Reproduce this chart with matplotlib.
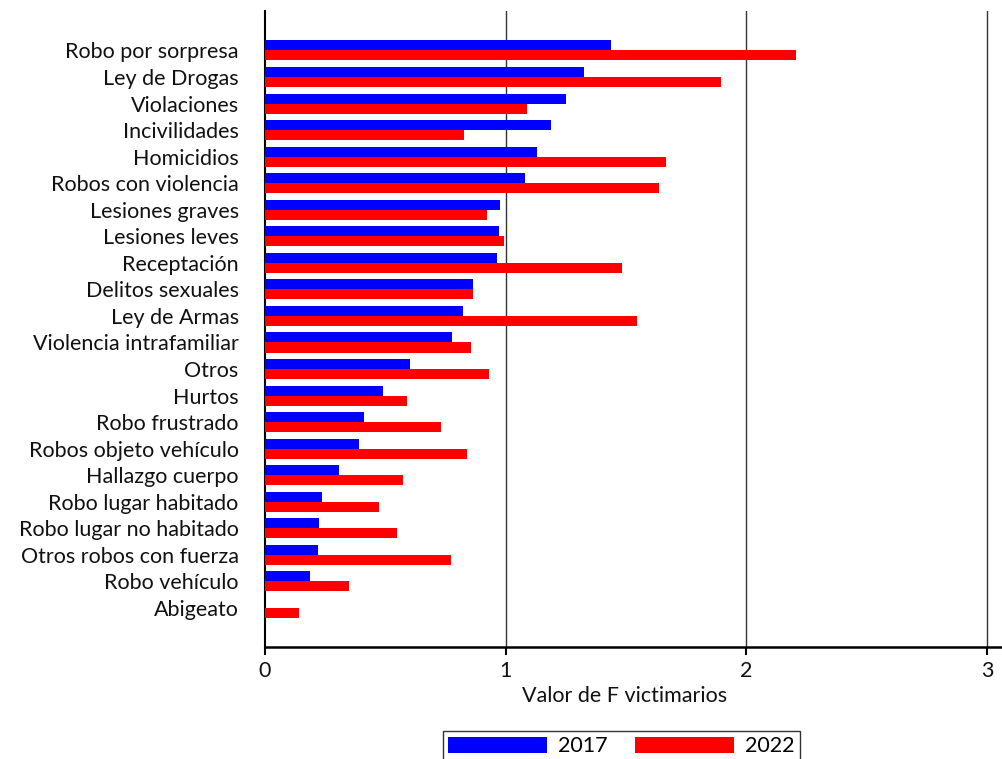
import matplotlib
matplotlib.use("Agg")
import matplotlib.pyplot as plt
import numpy as np

plt.rcParams['font.family'] = ['Lato', 'DejaVu Sans']

# delitos, de arriba hacia abajo
categorias = ['Robo por sorpresa', 'Ley de Drogas', 'Violaciones', 'Incivilidades',
              'Homicidios', 'Robos con violencia', 'Lesiones graves', 'Lesiones leves',
              'Receptación', 'Delitos sexuales', 'Ley de Armas', 'Violencia intrafamiliar',
              'Otros', 'Hurtos', 'Robo frustrado', 'Robos objeto vehículo',
              'Hallazgo cuerpo', 'Robo lugar habitado', 'Robo lugar no habitado',
              'Otros robos con fuerza', 'Robo vehículo', 'Abigeato']

f_2017 = [1.437, 1.325, 1.25, 1.188, 1.13, 1.08, 0.978, 0.972, 0.964, 0.863, 0.821,
          0.777, 0.602, 0.49, 0.411, 0.391, 0.306, 0.237, 0.224, 0.22, 0.187, 0.0]
f_2022 = [2.206, 1.894, 1.089, 0.826, 1.666, 1.637, 0.922, 0.993, 1.483, 0.863, 1.545,
          0.856, 0.931, 0.589, 0.73, 0.839, 0.573, 0.474, 0.548, 0.773, 0.349, 0.141]

anios = ['2017', '2022']
colores = ['#0000ff', '#ff0000']

fig = plt.figure(figsize=(10.02, 7.59), dpi=100)
ax = fig.add_axes([0.2645, 0.1475, 0.7355, 0.8375])

y = np.arange(len(categorias))
alto = 0.377
ax.barh(y - alto / 2, f_2017, height=alto, color=colores[0], label=anios[0], zorder=3)
ax.barh(y + alto / 2, f_2022, height=alto, color=colores[1], label=anios[1], zorder=3)

ax.set_yticks(y)
ax.set_yticklabels(categorias, fontsize=15.5, color='#111111')
ax.set_ylim(22.47, -1.47)
ax.set_xlim(0, 3.062)
ax.set_xticks([0, 1, 2, 3])
ax.set_xticklabels(['0', '1', '2', '3'], fontsize=15.5, color='#111111')
ax.set_xlabel('Valor de F victimarios', fontsize=15.5, color='#111111')
ax.xaxis.set_label_coords(0.488, -0.062)

for v in [1, 2, 3]:
    ax.axvline(v, color='#333333', linewidth=1, zorder=1)

for lado in ['top', 'right']:
    ax.spines[lado].set_visible(False)
ax.spines['left'].set_linewidth(1.5)
ax.spines['bottom'].set_linewidth(1.8)
ax.tick_params(axis='y', length=0, pad=19)
ax.tick_params(axis='x', length=6, width=1.5, direction='out', pad=4)

fig.legend(loc='upper center', bbox_to_anchor=(0.62, 0.037), ncol=2, fontsize=15.5,
           frameon=True, fancybox=False, edgecolor='#333333', framealpha=1,
           handlelength=4.6, handleheight=0.8, columnspacing=1.3, handletextpad=0.5,
           borderpad=0.25, borderaxespad=0)

fig.savefig('out.png', dpi=100)
